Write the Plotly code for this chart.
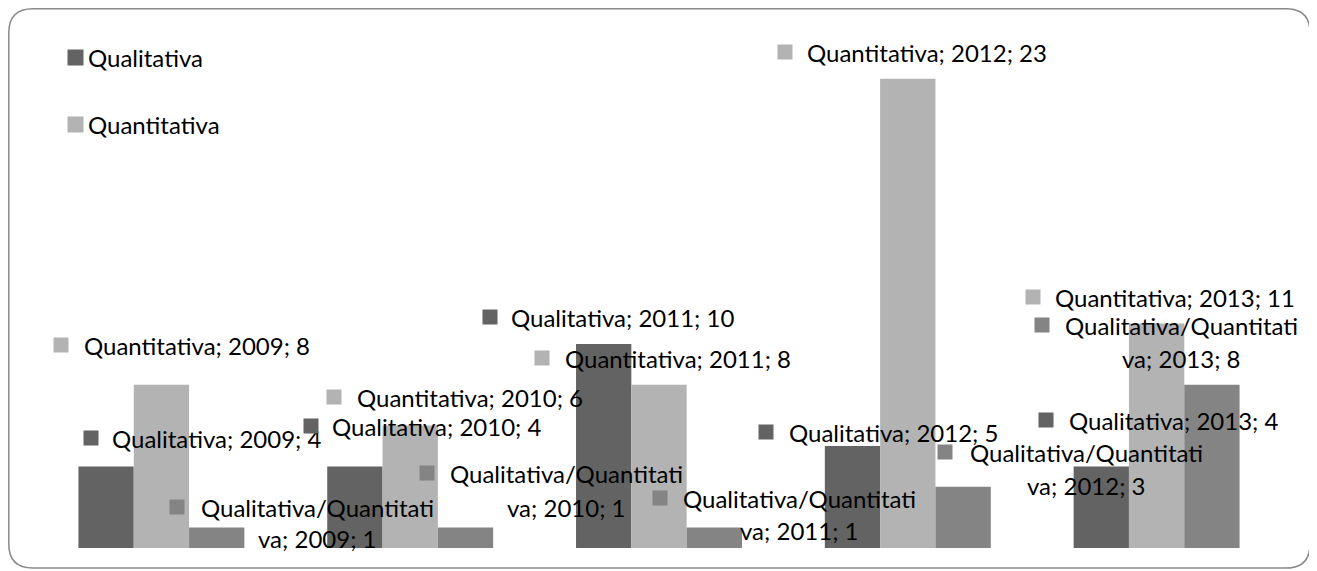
import plotly.graph_objects as go

# ---- data ----
years = ["2009", "2010", "2011", "2012", "2013"]
qualitativa = [4, 4, 10, 5, 4]
quantitativa = [8, 6, 8, 23, 11]
qual_quant = [1, 1, 1, 3, 8]
series_names = ["Qualitativa", "Quantitativa", "Qualitativa/Quantitativa"]

# ---- style ----
COLORS = ["#636363", "#b3b3b3", "#848484"]
FONT = "Lato"
FS = 24
OFF = 8  # page body margin
W, H = 1317 - OFF, 571 - OFF
ML, MR, MT, MB = 37 - OFF, 36, 38 - OFF, 23

fig = go.Figure()
for name, vals, col in zip(series_names, [qualitativa, quantitativa, qual_quant], COLORS):
    fig.add_trace(go.Bar(name=name, x=years, y=vals, marker=dict(color=col, line=dict(width=0)),
                         showlegend=False))

annotations = []


def key(i, y, dx, dy, col):
    annotations.append(dict(x=i, y=y, xref="x", yref="y", xshift=dx, yshift=dy,
                            xanchor="left", yanchor="middle", text=" ", showarrow=False,
                            width=14, height=14, bgcolor=col, borderpad=0,
                            font=dict(size=1)))


def txt(i, y, dx, dy, s, anchor="left"):
    annotations.append(dict(x=i, y=y, xref="x", yref="y", xshift=dx, yshift=dy,
                            xanchor=anchor, yanchor="middle", text=s, showarrow=False,
                            font=dict(family=FONT, size=FS, color="#000000")))


# label offsets (key dx, text dx, dy) relative to category centre / bar top
qual_off = [(-78.4, -51.4, 28.4), (-107.2, -80.2, 40.4), (-177, -150, 27),
            (-149.8, -120.8, 14), (-118.6, -89.6, 46.4)]
quant_off = [(-108.4, -79.4, 39.8), (-84.2, -55.2, 28.6), (-125, -96, 26.8),
             (-130.8, -102.8, 26.8), (-131.6, -103.6, 26.6)]
# (key dx, centre dx, line1 dy, line2 dy)
mix_off = [(7.6, 156.1, 20.6, -10.4), (8.8, 156.3, 54.6, 20.6), (-7, 140, 29.6, -2.4),
           (29.2, 178.2, 34.8, 1.8), (-122.6, 24.9, 59.8, 26.8)]

for i, yr in enumerate(years):
    v = qualitativa[i]
    kdx, tdx, dy = qual_off[i]
    key(i, v, kdx, dy, COLORS[0])
    txt(i, v, tdx, dy, f"{series_names[0]}; {yr}; {v}")

    v = quantitativa[i]
    kdx, tdx, dy = quant_off[i]
    key(i, v, kdx, dy, COLORS[1])
    txt(i, v, tdx, dy, f"{series_names[1]}; {yr}; {v}")

    v = qual_quant[i]
    kdx, cdx, dy1, dy2 = mix_off[i]
    full = f"{series_names[2]}; {yr}; {v}"
    key(i, v, kdx, dy1, COLORS[2])
    txt(i, v, cdx, dy1, full[:22], anchor="center")
    txt(i, v, cdx, dy2, full[22:], anchor="center")


def px2paper(px, py):
    # px, py in screenshot pixels
    fx, fy = px - OFF, py - OFF
    return (fx - ML) / (W - ML - MR), (H - MB - fy) / (H - MT - MB)


# legend at top-left (only the first two series, as in the original)
for j, ly in enumerate([58, 125]):
    kx, ky = px2paper(67, ly)
    annotations.append(dict(x=kx, y=ky, xref="paper", yref="paper", xanchor="left", yanchor="middle",
                            text=" ", showarrow=False, width=15, height=15, bgcolor=COLORS[j],
                            borderpad=0, font=dict(size=1)))
    tx, ty = px2paper(86, ly)
    annotations.append(dict(x=tx, y=ty, xref="paper", yref="paper", xanchor="left", yanchor="middle",
                            text=series_names[j], showarrow=False,
                            font=dict(family=FONT, size=FS, color="#000000")))

# rounded chart border (screenshot pixels)
L, T, R, B, r = OFF + 0.8, OFF + 0.8, 1310, 568, 24


def P(px, py):
    x, y = px2paper(px, py)
    return f"{x:.5f},{y:.5f}"


path = (f"M {P(L + r, T)} L {P(R - r, T)} Q {P(R, T)} {P(R, T + r)} "
        f"L {P(R, B - r)} Q {P(R, B)} {P(R - r, B)} "
        f"L {P(L + r, B)} Q {P(L, B)} {P(L, B - r)} "
        f"L {P(L, T + r)} Q {P(L, T)} {P(L + r, T)} Z")

fig.update_layout(
    width=W, height=H,
    margin=dict(l=ML, r=MR, t=MT, b=MB),
    paper_bgcolor="white", plot_bgcolor="white",
    barmode="group", bargap=0.333, bargroupgap=0,
    xaxis=dict(visible=False, type="category", range=[-0.5, 4.5], autorange=False),
    yaxis=dict(visible=False, range=[0, 25], autorange=False),
    annotations=annotations,
    shapes=[dict(type="path", xref="paper", yref="paper", path=path,
                 line=dict(color="#8a8a8a", width=1.5), layer="above")],
    font=dict(family=FONT, size=FS),
    showlegend=False,
)

fig.write_html("out.html")
